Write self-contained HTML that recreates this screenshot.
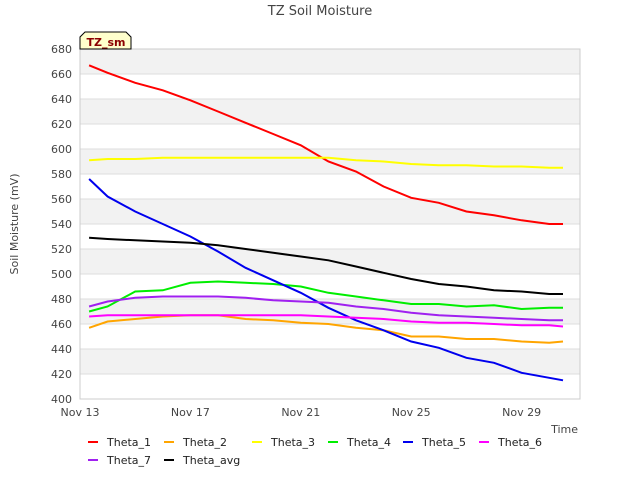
<!DOCTYPE html>
<html><head><meta charset="utf-8"><style>
body{margin:0;background:#fff;font-family:"Liberation Sans","DejaVu Sans",sans-serif}
text{font-family:"DejaVu Sans","Liberation Sans",sans-serif}
</style></head><body>
<svg id="chart" width="640" height="480" viewBox="0 0 640 480" xmlns="http://www.w3.org/2000/svg">
<rect width="640" height="480" fill="#fff"/>
<text x="320" y="15" text-anchor="middle" font-size="13" fill="#444">TZ Soil Moisture</text>
<g id="bands"></g><g id="grid"></g>
<rect x="80" y="49" width="500" height="350" fill="none" stroke="#ccc"/>
<g id="yticks"></g><g id="xticks"></g><g id="series"></g>
<text transform="translate(18,224) rotate(-90)" text-anchor="middle" font-size="11" fill="#444">Soil Moisture (mV)</text>
<text x="578" y="433" text-anchor="end" font-size="11" fill="#444">Time</text>
<g>
<path d="M80,49 L80,37 L85,32 L126,32 L131,37 L131,49 Z" fill="#ffffcc" stroke="#000"/>
<text x="106" y="46" text-anchor="middle" font-size="11" font-weight="bold" fill="#8b0000">TZ_sm</text>
</g>
<g id="legend"></g>
</svg>
<script>
const days=[0.33,1,2,3,4,5,6,7,8,9,10,11,12,13,14,15,16,17,17.5];
const seriesNames=["Theta_1","Theta_2","Theta_3","Theta_4","Theta_5","Theta_6","Theta_7","Theta_avg"];
const seriesColors=["#ff0000","#ffa500","#ffff00","#00ee00","#0000ee","#ff00ff","#a020f0","#000000"];
const theta1=[667,661,653,647,639,630,621,612,603,590,582,570,561,557,550,547,543,540,540];
const theta2=[457,462,464,466,467,467,464,463,461,460,457,455,450,450,448,448,446,445,446];
const theta3=[591,592,592,593,593,593,593,593,593,593,591,590,588,587,587,586,586,585,585];
const theta4=[470,474,486,487,493,494,493,492,490,485,482,479,476,476,474,475,472,473,473];
const theta5=[576,562,550,540,530,518,505,495,485,473,463,455,446,441,433,429,421,417,415];
const theta6=[466,467,467,467,467,467,467,467,467,466,465,464,462,461,461,460,459,459,458];
const theta7=[474,478,481,482,482,482,481,479,478,477,474,472,469,467,466,465,464,463,463];
const thetaAvg=[529,528,527,526,525,523,520,517,514,511,506,501,496,492,490,487,486,484,484];
const allSeries=[theta1,theta2,theta3,theta4,theta5,theta6,theta7,thetaAvg];
const yTicks=[400,420,440,460,480,500,520,540,560,580,600,620,640,660,680];
const xTickDays=[0,4,8,12,16];
const xTickLabels=["Nov 13","Nov 17","Nov 21","Nov 25","Nov 29"];
const NS="http://www.w3.org/2000/svg";
const X=d=>80+d*27.6;
const Y=v=>399-(v-400)*1.25;
function mk(tag,attrs,parent){const e=document.createElementNS(NS,tag);for(const k in attrs)e.setAttribute(k,attrs[k]);document.getElementById(parent).appendChild(e);return e;}
for(let i=0;i<yTicks.length-1;i++){
  if(i%2===1){const r=mk('rect',{x:80,y:Y(yTicks[i+1]),width:500,height:Y(yTicks[i])-Y(yTicks[i+1]),fill:'#f2f2f2'},'bands');
  
  }
}
yTicks.forEach(v=>{
  const l=mk('line',{x1:80,x2:580,y1:Y(v),y2:Y(v),stroke:'#ddd'},'grid');
  
  
  const t=mk('text',{x:72,y:Y(v)+4,'text-anchor':'end','font-size':'11',fill:'#444'},'yticks');
  t.textContent=v;
  
  
});
xTickDays.forEach((d,i)=>{
  const t=mk('text',{x:X(d),y:416,'text-anchor':'middle','font-size':'11',fill:'#444'},'xticks');
  t.textContent=xTickLabels[i];
  
  
});
allSeries.forEach((s,i)=>{
  const p=mk('polyline',{points:s.map((v,j)=>X(days[j]).toFixed(1)+','+Y(v).toFixed(1)).join(' '),fill:'none',stroke:seriesColors[i],'stroke-width':'2'},'series');
  
  
});
const legX=[88,164,252,328,403,479,88,164];
const legY=[442,442,442,442,442,442,460,460];
seriesNames.forEach((n,i)=>{
  const g=mk('g',{},'legend');
  
  
  const l=document.createElementNS(NS,'line');
  l.setAttribute('x1',legX[i]);l.setAttribute('x2',legX[i]+10);l.setAttribute('y1',legY[i]);l.setAttribute('y2',legY[i]);
  l.setAttribute('stroke',seriesColors[i]);l.setAttribute('stroke-width','2');g.appendChild(l);
  const t=document.createElementNS(NS,'text');
  t.setAttribute('x',legX[i]+19);t.setAttribute('y',legY[i]+4);t.setAttribute('font-size','11');t.setAttribute('fill','#222');
  t.textContent=n;g.appendChild(t);
});
</script>
</body></html>
